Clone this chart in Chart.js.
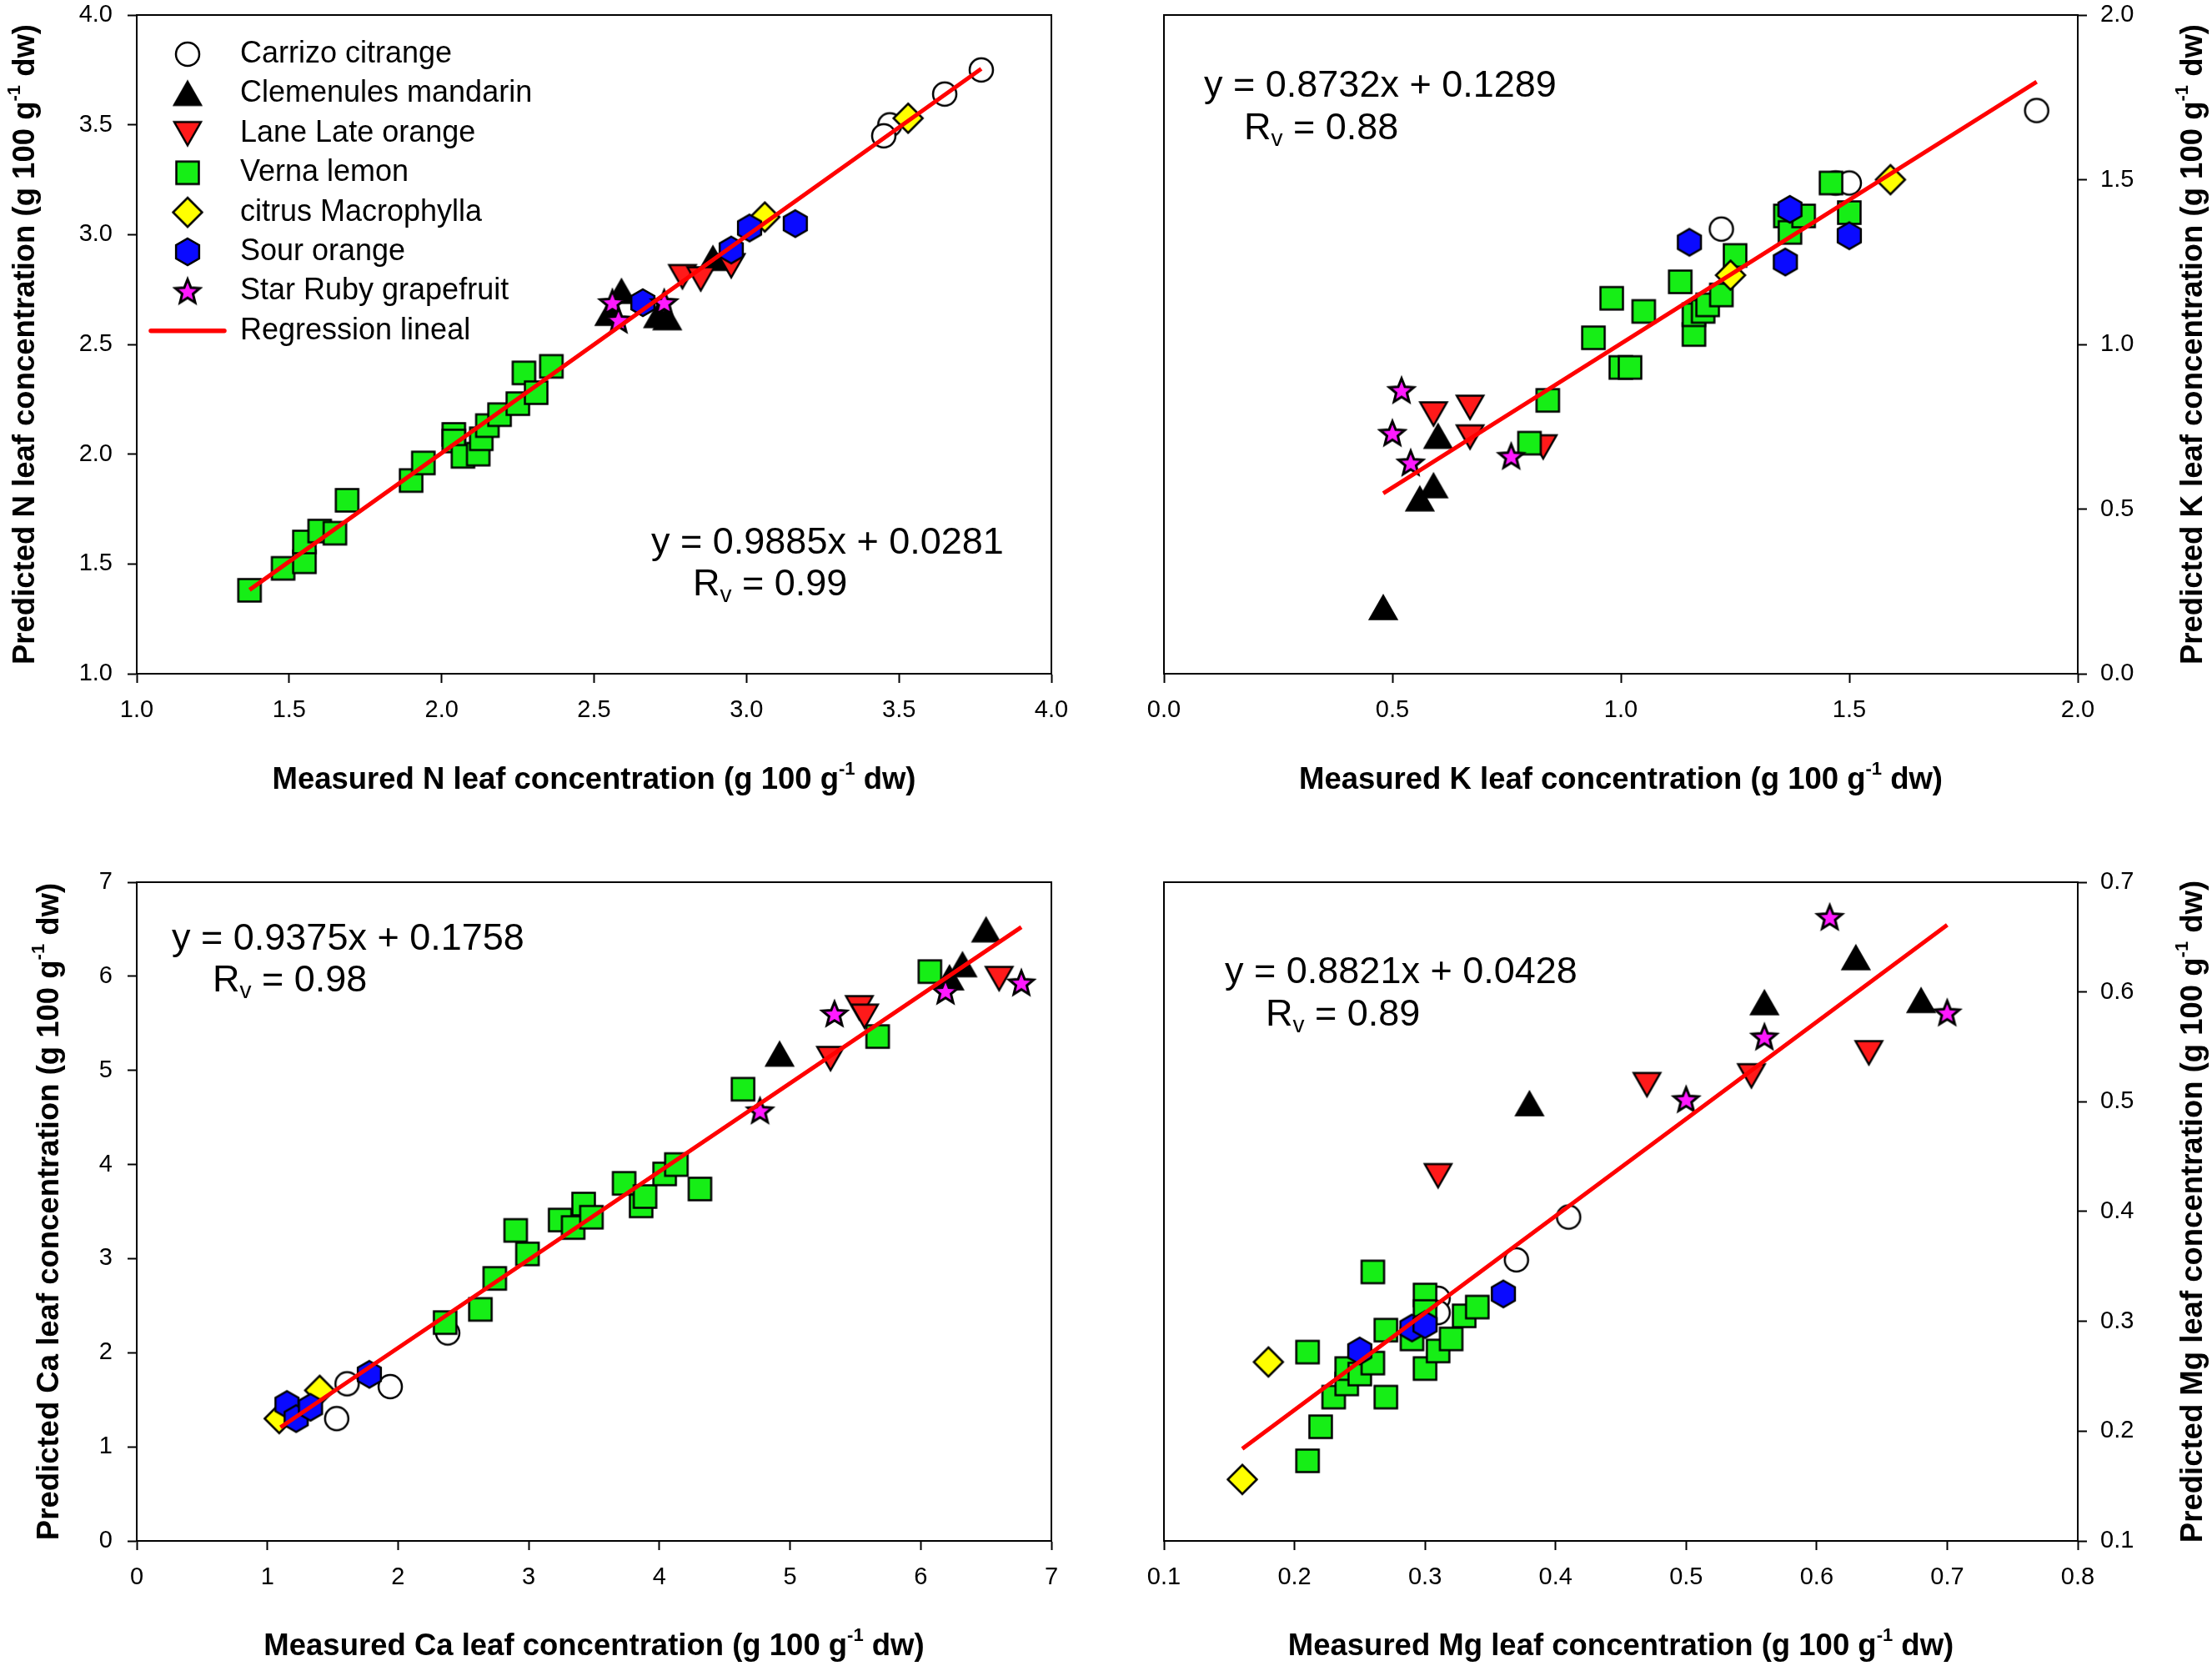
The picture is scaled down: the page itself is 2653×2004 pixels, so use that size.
<!DOCTYPE html>
<html>
<head>
<meta charset="utf-8">
<title>Measured vs predicted leaf nutrient concentration</title>
<script src="https://cdn.jsdelivr.net/npm/chart.js@4.4.1/dist/chart.umd.min.js"></script>
<style>
  html, body { margin: 0; padding: 0; background: #fff; }
  #page { position: relative; width: 2653px; height: 2004px; background: #fff; }
  #page canvas { position: absolute; }
</style>
</head>
<body>
<div id="page">
  <canvas id="chartN" width="1330" height="1000" style="left:0;top:0"></canvas>
  <canvas id="chartK" width="1323" height="1000" style="left:1330px;top:0"></canvas>
  <canvas id="chartCa" width="1330" height="1004" style="left:0;top:1000px"></canvas>
  <canvas id="chartMg" width="1323" height="1004" style="left:1330px;top:1000px"></canvas>
</div>
<script>
// ---- data: [measured, predicted] ----
const varieties = ['Carrizo citrange', 'Clemenules mandarin', 'Lane Late orange', 'Verna lemon',
                   'citrus Macrophylla', 'Sour orange', 'Star Ruby grapefruit'];
const regressionLabel = 'Regression lineal';

// N
const nCarrizo = [[3.77, 3.75], [3.65, 3.64], [3.47, 3.50], [3.45, 3.45]];
const nClemenules = [[2.59, 2.74], [2.55, 2.64], [2.71, 2.63], [2.74, 2.62], [2.89, 2.89]];
const nLaneLate = [[2.79, 2.81], [2.85, 2.80], [2.95, 2.86]];
const nVerna = [[1.37, 1.38], [1.48, 1.48], [1.55, 1.51], [1.55, 1.60], [1.60, 1.65], [1.65, 1.64],
                [1.69, 1.79], [1.90, 1.88], [1.94, 1.96], [2.04, 2.09], [2.04, 2.06], [2.07, 1.99],
                [2.12, 2.00], [2.13, 2.07], [2.15, 2.13], [2.19, 2.18], [2.25, 2.23], [2.27, 2.37],
                [2.31, 2.28], [2.36, 2.40]];
const nMacrophylla = [[3.53, 3.53], [3.06, 3.08]];
const nSour = [[3.16, 3.05], [3.01, 3.03], [2.95, 2.93], [2.66, 2.69]];
const nStarRuby = [[2.56, 2.69], [2.58, 2.61], [2.73, 2.69]];
const nFit = [[1.37, 1.382], [3.77, 3.755]];

// K
const kCarrizo = [[1.91, 1.71], [1.47, 1.49], [1.50, 1.49], [1.22, 1.35]];
const kClemenules = [[0.48, 0.20], [0.56, 0.53], [0.59, 0.57], [0.60, 0.72]];
const kLaneLate = [[0.59, 0.79], [0.67, 0.81], [0.67, 0.72], [0.83, 0.69]];
const kVerna = [[0.80, 0.70], [0.84, 0.83], [0.94, 1.02], [0.98, 1.14], [1.00, 0.93], [1.02, 0.93],
                [1.05, 1.10], [1.13, 1.19], [1.16, 1.03], [1.16, 1.09], [1.18, 1.10], [1.19, 1.12],
                [1.22, 1.15], [1.25, 1.27], [1.36, 1.39], [1.37, 1.34], [1.40, 1.39], [1.46, 1.49],
                [1.50, 1.40]];
const kMacrophylla = [[1.24, 1.21], [1.59, 1.50]];
const kSour = [[1.15, 1.31], [1.36, 1.25], [1.37, 1.41], [1.50, 1.33]];
const kStarRuby = [[0.52, 0.86], [0.50, 0.73], [0.54, 0.64], [0.76, 0.66]];
const kFit = [[0.48, 0.548], [1.91, 1.797]];

// Ca
const caCarrizo = [[1.53, 1.30], [1.61, 1.67], [1.94, 1.64], [2.38, 2.21]];
const caClemenules = [[4.92, 5.17], [6.50, 6.49], [6.32, 6.12], [6.22, 5.98]];
const caLaneLate = [[5.31, 5.13], [5.53, 5.67], [5.57, 5.58], [6.60, 5.98]];
const caVerna = [[2.36, 2.32], [2.63, 2.46], [2.74, 2.79], [2.90, 3.30], [2.99, 3.05], [3.24, 3.41],
                 [3.34, 3.33], [3.42, 3.58], [3.48, 3.44], [3.73, 3.80], [3.86, 3.56], [3.89, 3.66],
                 [4.04, 3.90], [4.13, 4.00], [4.31, 3.74], [4.64, 4.80], [5.67, 5.36], [6.07, 6.05]];
const caMacrophylla = [[1.09, 1.30], [1.40, 1.60]];
const caSour = [[1.15, 1.45], [1.22, 1.30], [1.33, 1.42], [1.78, 1.77]];
const caStarRuby = [[4.77, 4.57], [5.34, 5.60], [6.19, 5.84], [6.77, 5.93]];
const caFit = [[1.10, 1.207], [6.77, 6.523]];

// Mg
const mgCarrizo = [[0.41, 0.395], [0.37, 0.356], [0.31, 0.321], [0.31, 0.308]];
const mgClemenules = [[0.38, 0.498], [0.56, 0.590], [0.63, 0.631], [0.68, 0.592]];
const mgLaneLate = [[0.31, 0.433], [0.47, 0.516], [0.55, 0.524], [0.64, 0.545]];
const mgVerna = [[0.26, 0.345], [0.21, 0.272], [0.21, 0.173], [0.22, 0.204], [0.23, 0.231], [0.24, 0.243],
                 [0.24, 0.257], [0.25, 0.252], [0.26, 0.262], [0.27, 0.231], [0.27, 0.292], [0.29, 0.284],
                 [0.30, 0.324], [0.30, 0.309], [0.30, 0.257], [0.31, 0.273], [0.32, 0.284], [0.33, 0.305],
                 [0.34, 0.313]];
const mgMacrophylla = [[0.16, 0.156], [0.18, 0.263]];
const mgSour = [[0.25, 0.273], [0.29, 0.294], [0.30, 0.297], [0.36, 0.325]];
const mgStarRuby = [[0.61, 0.668], [0.56, 0.559], [0.50, 0.502], [0.70, 0.581]];
const mgFit = [[0.16, 0.184], [0.70, 0.661]];

// ---- styles ----
const FONT = "'Liberation Sans', Arial, sans-serif";
const tickFont = { family: FONT, size: 29 };
const titleFont = 'bold 36.5px ' + FONT;
const supFont = 'bold 22px ' + FONT;
const eqFont = '45px ' + FONT;
const eqSubFont = '28px ' + FONT;
const legendFont = '36px ' + FONT;
const RED = '#ff0000';

// marker images (SigmaPlot-like symbols)
function marker(shape, fill) {
  const S = 42;
  const c = document.createElement('canvas');
  c.width = S; c.height = S;
  const g = c.getContext('2d');
  g.translate(S / 2, S / 2);
  g.fillStyle = fill;
  g.strokeStyle = '#000';
  g.lineWidth = 2.5;
  g.lineJoin = 'miter';
  g.beginPath();
  if (shape === 'circle') {
    g.arc(0, 0, 14, 0, Math.PI * 2);
  } else if (shape === 'up') {
    g.moveTo(0, -14.5); g.lineTo(16, 13.5); g.lineTo(-16, 13.5); g.closePath();
  } else if (shape === 'down') {
    g.moveTo(0, 14.5); g.lineTo(16, -13.5); g.lineTo(-16, -13.5); g.closePath();
  } else if (shape === 'square') {
    g.rect(-13.5, -13.5, 27, 27);
  } else if (shape === 'diamond') {
    g.moveTo(0, -17.5); g.lineTo(17.5, 0); g.lineTo(0, 17.5); g.lineTo(-17.5, 0); g.closePath();
  } else if (shape === 'hexagon') {
    for (let i = 0; i < 6; i++) {
      const a = -Math.PI / 2 + i * Math.PI / 3;
      const px = 16 * Math.cos(a), py = 16 * Math.sin(a);
      if (i === 0) g.moveTo(px, py); else g.lineTo(px, py);
    }
    g.closePath();
  } else if (shape === 'star') {
    g.lineWidth = 3;
    for (let i = 0; i < 10; i++) {
      const a = -Math.PI / 2 + i * Math.PI / 5;
      const r = i % 2 === 0 ? 15.5 : 6.8;
      const px = r * Math.cos(a), py = r * Math.sin(a) + 1;
      if (i === 0) g.moveTo(px, py); else g.lineTo(px, py);
    }
    g.closePath();
  }
  g.fill();
  g.stroke();
  return c;
}

const markers = [
  marker('circle', '#ffffff'),
  marker('up', '#000000'),
  marker('down', '#ff1a1a'),
  marker('square', '#16ee16'),
  marker('diamond', '#ffff00'),
  marker('hexagon', '#0a0aff'),
  marker('star', '#ff1aff')
];

// draw a run of text pieces (for super/subscripts)
function drawParts(ctx, parts, x, y, align) {
  let total = 0;
  parts.forEach(p => { ctx.font = p.font; p.w = ctx.measureText(p.text).width; total += p.w; });
  let cx = align === 'center' ? x - total / 2 : x;
  ctx.textAlign = 'left';
  ctx.textBaseline = 'middle';
  ctx.fillStyle = '#000';
  parts.forEach(p => {
    ctx.font = p.font;
    ctx.fillText(p.text, cx, y + (p.dy || 0));
    cx += p.w;
  });
}

function unitTitle(pre) {
  return [
    { text: pre + ' (g 100 g', font: titleFont },
    { text: '-1', font: supFont, dy: -13 },
    { text: ' dw)', font: titleFont }
  ];
}

// frame, axis titles, equation, legend
function decor(cfg) {
  return {
    id: 'decor',
    afterDraw(chart) {
      const ctx = chart.ctx;
      const a = chart.chartArea;
      ctx.save();
      ctx.strokeStyle = '#000';
      ctx.lineWidth = 2;
      ctx.strokeRect(a.left, a.top, a.right - a.left, a.bottom - a.top);

      drawParts(ctx, unitTitle(cfg.xTitle), (a.left + a.right) / 2, a.bottom + cfg.xTitleGap, 'center');

      ctx.save();
      const yx = cfg.yRight ? a.right + cfg.yTitleGap : a.left - cfg.yTitleGap;
      ctx.translate(yx, (a.top + a.bottom) / 2);
      ctx.rotate(-Math.PI / 2);
      drawParts(ctx, unitTitle(cfg.yTitle), 0, 0, 'center');
      ctx.restore();

      drawParts(ctx, [{ text: cfg.equation, font: eqFont }],
        a.left + cfg.eqAt[0], a.top + cfg.eqAt[1], 'left');
      drawParts(ctx, [
        { text: 'R', font: eqFont },
        { text: 'v', font: eqSubFont, dy: 12 },
        { text: ' = ' + cfg.rv, font: eqFont }
      ], a.left + cfg.rvAt[0], a.top + cfg.rvAt[1], 'left');

      if (cfg.legend) {
        const sx = a.left + 61, tx = a.left + 124, y0 = a.top + 47, dy = 47.4;
        varieties.forEach((name, i) => {
          const m = markers[i];
          const y = y0 + dy * i;
          ctx.drawImage(m, sx - m.width / 2, y - m.height / 2);
          drawParts(ctx, [{ text: name, font: legendFont }], tx, y, 'left');
        });
        const yl = y0 + dy * 7;
        ctx.strokeStyle = RED;
        ctx.lineWidth = 5.5;
        ctx.lineCap = 'round';
        ctx.beginPath();
        ctx.moveTo(sx - 44, yl);
        ctx.lineTo(sx + 44, yl);
        ctx.stroke();
        drawParts(ctx, [{ text: regressionLabel, font: legendFont }], tx, yl, 'left');
      }
      ctx.restore();
    }
  };
}

function axis(pos, min, max, step, dec, size) {
  const horizontal = pos === 'bottom';
  return {
    type: 'linear',
    position: pos,
    min: min,
    max: max,
    ticks: {
      stepSize: step,
      autoSkip: false,
      maxRotation: 0,
      color: '#000',
      font: tickFont,
      padding: horizontal ? 16 : (pos === 'left' ? 18 : 16),
      callback: v => Number(v).toFixed(dec)
    },
    grid: {
      drawOnChartArea: false,
      drawTicks: true,
      tickLength: 11,
      tickWidth: 2,
      tickColor: '#000',
      color: '#000'
    },
    border: { display: true, color: '#000', width: 2 },
    title: { display: false },
    // fixed box sizes so the plot frame lands where it is in the figure
    afterFit: s => {
      if (horizontal) { s.height = size; s.paddingLeft = 0; s.paddingRight = 0; }
      else { s.width = size; s.paddingTop = 0; s.paddingBottom = 0; }
    }
  };
}

function toPoints(arr) {
  return arr.map(p => ({ x: p[0], y: p[1] }));
}

function makeChart(id, p) {
  const series = p.series.map((arr, i) => ({
    label: varieties[i],
    data: toPoints(arr),
    pointStyle: markers[i],
    pointRadius: 14,
    order: 7 - i
  }));
  series.push({
    type: 'line',
    label: regressionLabel,
    data: toPoints(p.fit),
    showLine: true,
    borderColor: RED,
    borderWidth: 5,
    pointRadius: 0,
    fill: false,
    order: 0
  });
  return new Chart(document.getElementById(id), {
    type: 'scatter',
    data: { datasets: series },
    options: {
      responsive: false,
      animation: false,
      devicePixelRatio: 1,
      events: [],
      layout: { padding: p.padding },
      plugins: { legend: { display: false }, tooltip: { enabled: false } },
      scales: {
        x: axis('bottom', p.x[0], p.x[1], p.x[2], p.x[3], p.xSize),
        y: axis(p.yRight ? 'right' : 'left', p.y[0], p.y[1], p.y[2], p.y[3], p.ySize)
      }
    },
    plugins: [decor(p.decor)]
  });
}

document.addEventListener('DOMContentLoaded', () => {
  makeChart('chartN', {
    series: [nCarrizo, nClemenules, nLaneLate, nVerna, nMacrophylla, nSour, nStarRuby],
    fit: nFit,
    x: [1, 4, 0.5, 1], y: [1, 4, 0.5, 1],
    padding: { left: 0, top: 18, right: 69, bottom: 0 },
    xSize: 192, ySize: 164,
    decor: {
      xTitle: 'Measured N leaf concentration', yTitle: 'Predicted N leaf concentration',
      xTitleGap: 128, yTitleGap: 133,
      equation: 'y = 0.9885x + 0.0281', rv: '0.99',
      eqAt: [617, 634], rvAt: [667, 684], legend: true
    }
  });

  makeChart('chartK', {
    series: [kCarrizo, kClemenules, kLaneLate, kVerna, kMacrophylla, kSour, kStarRuby],
    fit: kFit,
    x: [0, 2, 0.5, 1], y: [0, 2, 0.5, 1], yRight: true,
    padding: { left: 66, top: 18, right: 0, bottom: 0 },
    xSize: 192, ySize: 161,
    decor: {
      xTitle: 'Measured K leaf concentration', yTitle: 'Predicted K leaf concentration',
      xTitleGap: 128, yTitleGap: 139, yRight: true,
      equation: 'y = 0.8732x + 0.1289', rv: '0.88',
      eqAt: [48, 86], rvAt: [96, 137]
    }
  });

  makeChart('chartCa', {
    series: [caCarrizo, caClemenules, caLaneLate, caVerna, caMacrophylla, caSour, caStarRuby],
    fit: caFit,
    x: [0, 7, 1, 0], y: [0, 7, 1, 0],
    padding: { left: 0, top: 58, right: 69, bottom: 0 },
    xSize: 156, ySize: 164,
    decor: {
      xTitle: 'Measured Ca leaf concentration', yTitle: 'Predicted Ca leaf concentration',
      xTitleGap: 127, yTitleGap: 104,
      equation: 'y = 0.9375x + 0.1758', rv: '0.98',
      eqAt: [42, 69], rvAt: [91, 119]
    }
  });

  makeChart('chartMg', {
    series: [mgCarrizo, mgClemenules, mgLaneLate, mgVerna, mgMacrophylla, mgSour, mgStarRuby],
    fit: mgFit,
    x: [0.1, 0.8, 0.1, 1], y: [0.1, 0.7, 0.1, 1], yRight: true,
    padding: { left: 66, top: 58, right: 0, bottom: 0 },
    xSize: 156, ySize: 161,
    decor: {
      xTitle: 'Measured Mg leaf concentration', yTitle: 'Predicted Mg leaf concentration',
      xTitleGap: 127, yTitleGap: 139, yRight: true,
      equation: 'y = 0.8821x + 0.0428', rv: '0.89',
      eqAt: [73, 109], rvAt: [122, 160]
    }
  });
});
</script>
</body>
</html>
